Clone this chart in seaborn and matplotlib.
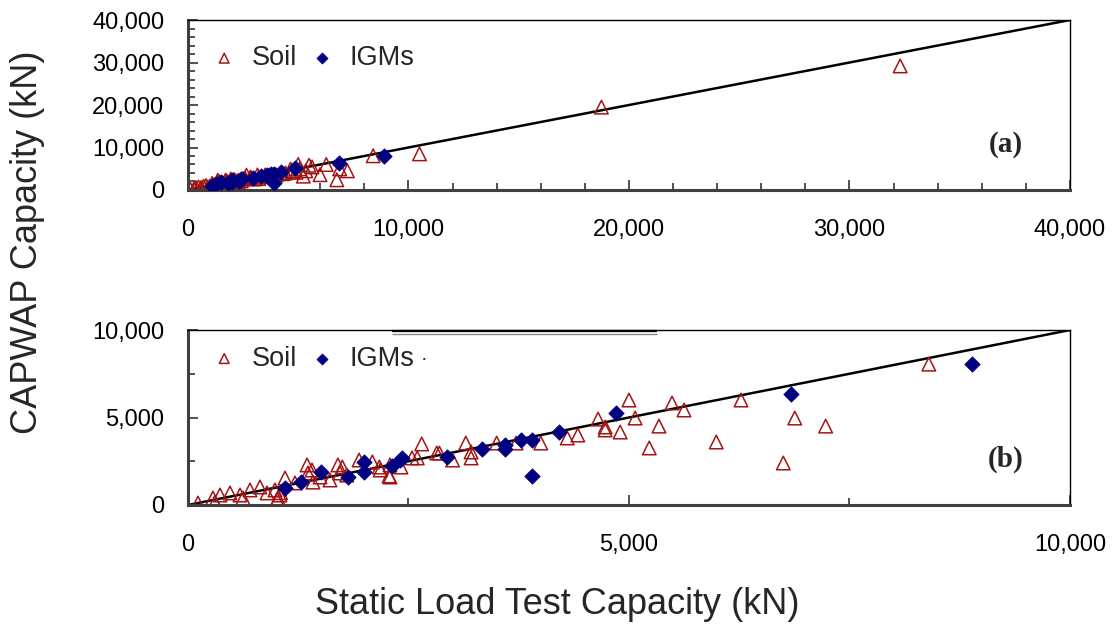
import numpy as np
import pandas as pd
import matplotlib
matplotlib.use('Agg')
import matplotlib.pyplot as plt
import seaborn as sns

# Werte (kN)
soil_x = [113, 283, 306, 363, 476, 590, 624, 703, 816, 896, 986, 1010, 1020, 1043, 1050,
          1100, 1213, 1350, 1360, 1417, 1406, 1497, 1610, 1700, 1723,
          1750, 1800, 1940, 2090, 2170, 2180, 2280, 2290, 2290, 2415, 2540, 2600, 2650,
          2820, 2850, 3000, 3150, 3210, 3210, 3500,
          3720, 4000, 4300, 4420, 4650, 4730, 4730, 4900, 5000, 5070, 5230,
          5340, 5488, 5624, 5990, 6270, 6750, 6880, 7230, 8400,
          10500, 18750, 32300]
soil_y = [110, 400, 170, 570, 690, 570, 400, 860, 1030, 690, 860, 300, 400, 570, 700,
          1540, 1260, 2290, 1830, 1310, 2000, 1600, 1430, 2290, 1830,
          2170, 1710, 2570, 2460, 2170, 2000, 1660, 2290, 1600, 2170, 2690, 2690, 3490,
          2970, 2970, 2570, 3540, 3030, 2690, 3540,
          3540, 3540, 3830, 4000, 4910, 4460, 4290, 4170, 6000, 4970, 3260,
          4510, 5830, 5430, 3600, 6000, 2400, 4970, 4510, 8050,
          8500, 19500, 29200]

igm_x = [1100, 1281, 1508, 1810, 2000, 2000, 2310, 2400, 2430, 2940, 3330, 3600, 3600,
         3775, 3900, 3900, 4206, 4850, 6840, 8890]
igm_y = [970, 1310, 1890, 1600, 2460, 1890, 2230, 2570, 2660, 2740, 3200, 3430, 3200,
         3710, 3710, 1660, 4170, 5260, 6340, 8060]

# Achsen: (Grenze, Beschriftungsschritt, Nebenschritt, Panelname)
panels = [(40000, 10000, 2000, '(a)'), (10000, 5000, 2500, '(b)')]

soil = pd.DataFrame({'x': soil_x, 'y': soil_y})
igm = pd.DataFrame({'x': igm_x, 'y': igm_y})

sns.set_style('white')
plt.rcParams['font.family'] = ['Liberation Sans', 'DejaVu Sans']

fig = plt.figure(figsize=(11.15, 6.26), dpi=100)
ax_a = fig.add_axes([0.1686, 0.6965, 0.791, 0.2715])
ax_b = fig.add_axes([0.1686, 0.1933, 0.791, 0.2795])

soil_color = '#A31515'
igm_color = '#000080'

for ax, (lim, major, minor, name) in zip([ax_a, ax_b], panels):
    # 1:1 Linie
    ax.plot([0, lim], [0, lim], color='black', lw=1.8, zorder=1)
    sub_s = soil[(soil.x <= lim) & (soil.y <= lim)]
    sub_i = igm[(igm.x <= lim) & (igm.y <= lim)]
    sns.scatterplot(data=sub_s, x='x', y='y', ax=ax, marker='^', s=95,
                    facecolors='none', edgecolor=soil_color, linewidth=1.1,
                    label='Soil', zorder=2)
    sns.scatterplot(data=sub_i, x='x', y='y', ax=ax, marker='D', s=62,
                    color=igm_color, edgecolor=igm_color, linewidth=0.5,
                    label='IGMs', zorder=3)
    ax.set_xlim(0, lim)
    ax.set_ylim(0, lim)
    ax.set_xticks(np.arange(0, lim + 1, major))
    ax.set_yticks(np.arange(0, lim + 1, major))
    ax.set_xticks(np.arange(0, lim + 1, minor), minor=True)
    ax.set_yticks(np.arange(0, lim + 1, minor), minor=True)
    ax.set_xticklabels([f'{int(v):,}' for v in np.arange(0, lim + 1, major)])
    ax.set_yticklabels([f'{int(v):,}' for v in np.arange(0, lim + 1, major)])
    ax.tick_params(axis='both', which='both', direction='in', left=True, bottom=True,
                   labelsize=17, colors='#333333', labelcolor='black')
    ax.tick_params(axis='x', which='major', length=7, width=1.2, pad=21)
    ax.tick_params(axis='y', which='major', length=7, width=1.2, pad=17)
    ax.tick_params(axis='both', which='minor', length=5, width=1.2)
    ax.set_xlabel('')
    ax.set_ylabel('')
    for side in ['left', 'bottom']:
        ax.spines[side].set_color('#404040')
        ax.spines[side].set_linewidth(2.2)
    for side in ['top', 'right']:
        ax.spines[side].set_color('black')
        ax.spines[side].set_linewidth(1.0)
    ax.text(0.927, 0.27 if name == '(a)' else 0.26, name, transform=ax.transAxes,
            family=['Liberation Serif', 'DejaVu Serif'], fontweight='bold',
            fontsize=21, ha='center', va='center')
    ax.legend(loc='upper left',
              bbox_to_anchor=(-0.005, 0.995 if name == '(a)' else 1.05),
              frameon=False, ncol=2, fontsize=19.5, markerscale=0.72,
              handlelength=1.2, handletextpad=0.42, columnspacing=0.3,
              borderaxespad=0.5)

# Artefakte aus der Vorlage in Panel (b)
ax_b.plot([0.231, 0.532], [0.992, 0.992], transform=ax_b.transAxes, color='black',
          lw=1.6, solid_capstyle='butt', clip_on=False)
ax_b.plot([0.231, 0.532], [0.980, 0.980], transform=ax_b.transAxes, color='#888888',
          lw=1.0, solid_capstyle='butt', clip_on=False)
ax_b.text(0.268, 0.83, '·', transform=ax_b.transAxes, fontsize=14,
          ha='center', va='center')

fig.text(0.025, 0.613, 'CAPWAP Capacity (kN)', rotation=90, fontsize=26,
         ha='center', va='center')
fig.text(0.5, 0.034, 'Static Load Test Capacity (kN)', fontsize=26,
         ha='center', va='center')

fig.savefig('out.png', dpi=100)
